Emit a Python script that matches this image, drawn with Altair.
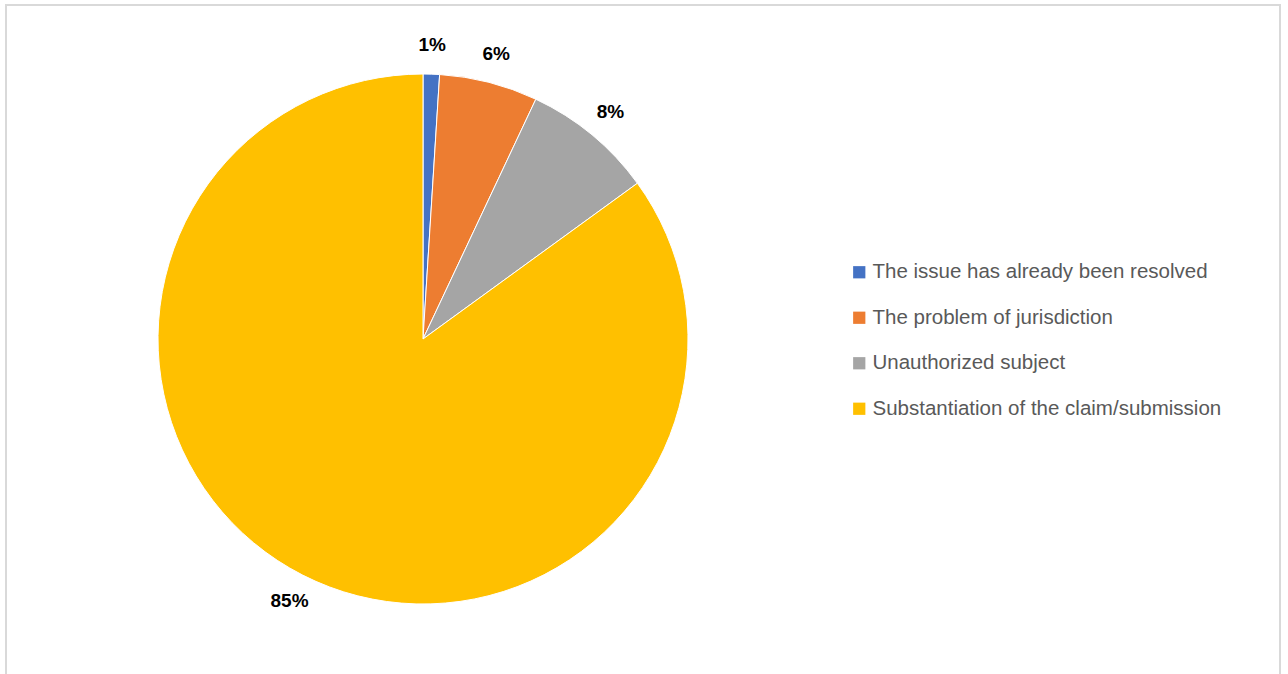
import altair as alt
import pandas as pd

categories = [
    "The issue has already been resolved",
    "The problem of jurisdiction",
    "Unauthorized subject",
    "Substantiation of the claim/submission",
]
values = [1, 6, 8, 85]
labels = ["1%", "6%", "8%", "85%"]
colors = ["#4472C4", "#ED7D31", "#A5A5A5", "#FFC000"]

df = pd.DataFrame({
    "category": categories,
    "value": values,
    "label": labels,
    "order": list(range(len(categories))),
})

CX, CY, R = 423, 339, 265

base = alt.Chart(df).encode(
    theta=alt.Theta("value:Q", stack=True),
    order=alt.Order("order:Q"),
    x=alt.value(CX),
    y=alt.value(CY),
)

pie = base.mark_arc(outerRadius=R, stroke="white", strokeWidth=1).encode(
    color=alt.Color(
        "category:N",
        scale=alt.Scale(domain=categories, range=colors),
        sort=categories,
        legend=alt.Legend(
            title=None,
            orient="none",
            legendX=849,
            legendY=262,
            symbolType="square",
            symbolSize=150,
            symbolStrokeWidth=0,
            labelFontSize=20.5,
            labelColor="#595959",
            labelFont="Liberation Sans",
            labelLimit=500,
            rowPadding=24.5,
            labelOffset=3,
        ),
    )
)

text = base.mark_text(
    radius=294, fontSize=19, fontWeight="bold", font="Liberation Sans", color="black"
).encode(text="label:N")

border = alt.Chart(df).mark_rect(fill=None, stroke="#d9d9d9", strokeWidth=1.5).encode(
    x=alt.value(6), x2=alt.value(1280), y=alt.value(5), y2=alt.value(720)
)

chart = alt.layer(border, pie, text).properties(
    width=1288, height=674, autosize=alt.AutoSizeParams(type="none"), padding=0
).configure_view(stroke=None)

chart.save("out.html", embed_options={"renderer": "svg", "actions": False})
